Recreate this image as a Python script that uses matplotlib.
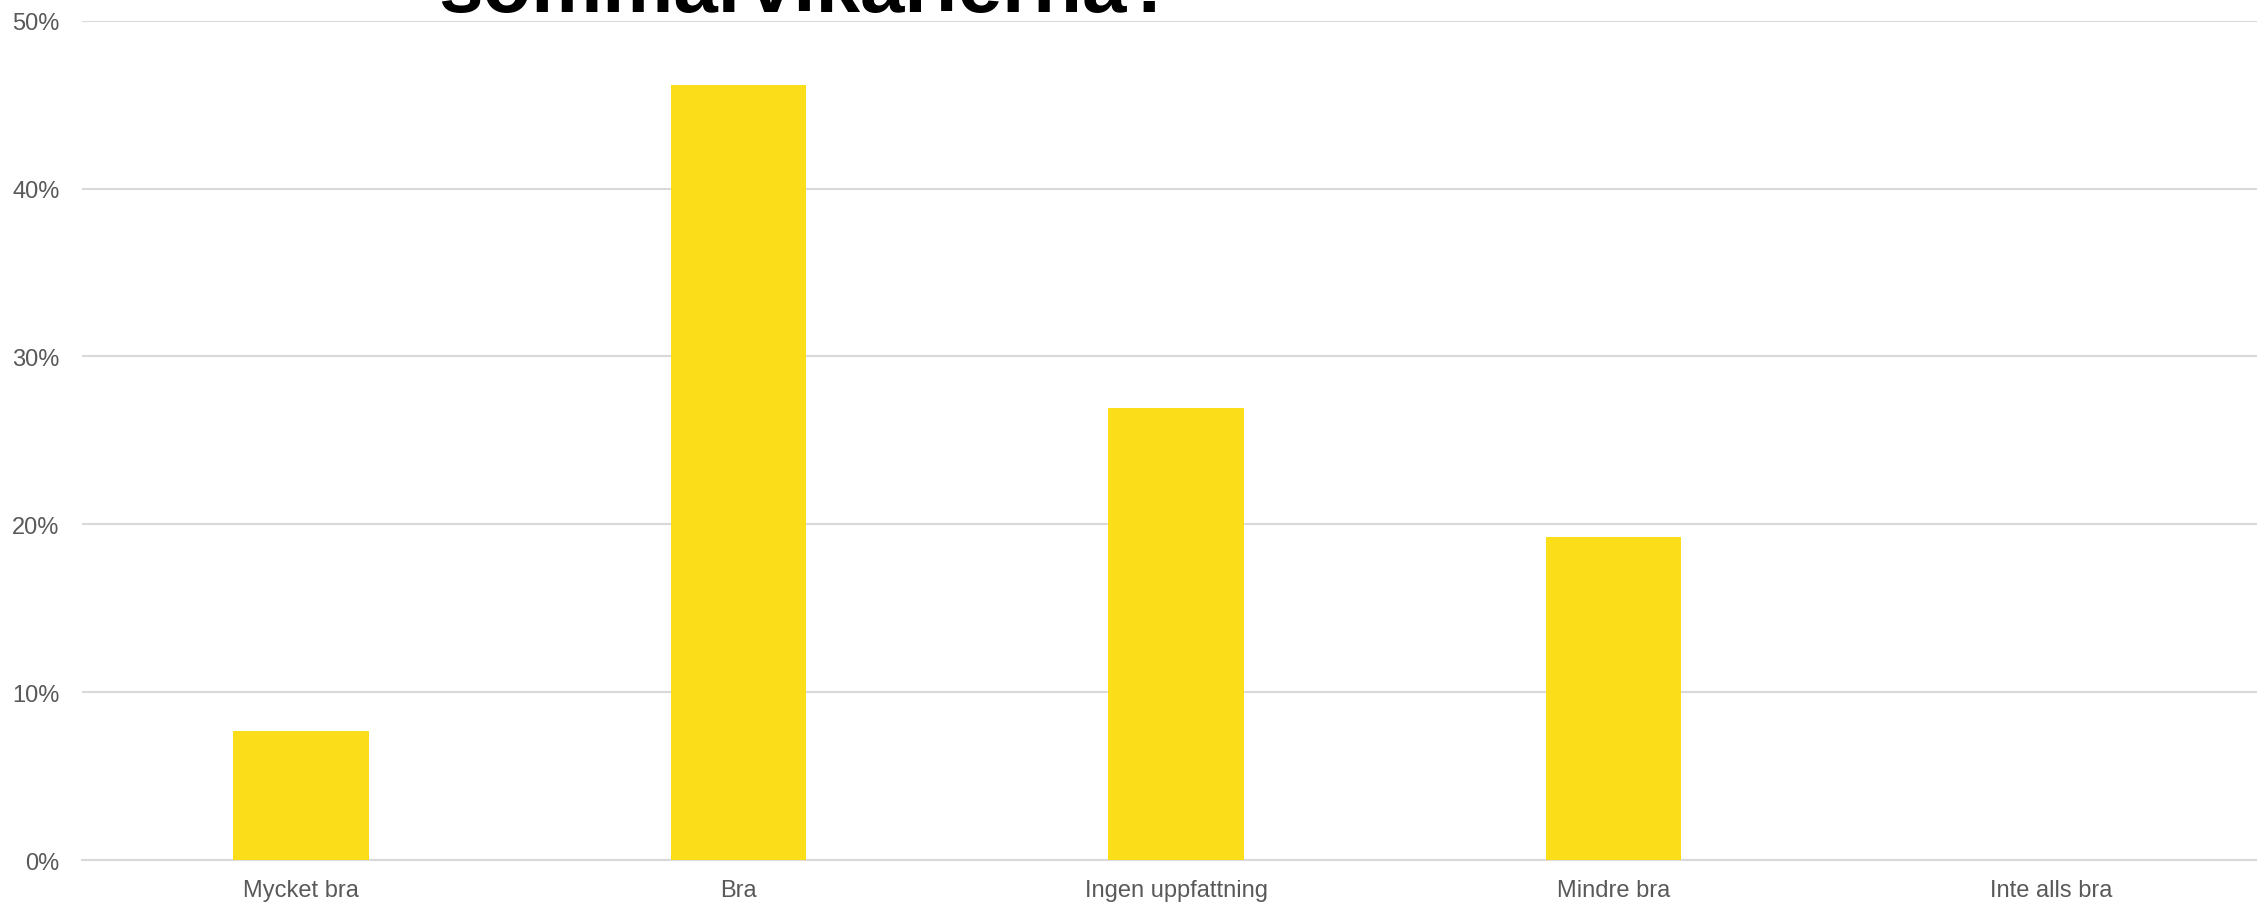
import matplotlib
matplotlib.use("Agg")
import matplotlib.pyplot as plt
from matplotlib.ticker import PercentFormatter

categories = ["Mycket bra", "Bra", "Ingen uppfattning", "Mindre bra", "Inte alls bra"]
values = [7.69, 46.15, 26.92, 19.23, 0.0]
yticks = [0, 10, 20, 30, 40, 50]
title = "sommarvikarierna?"

plt.rcParams['font.family'] = ['Liberation Sans', 'DejaVu Sans']

fig = plt.figure(figsize=(22.57, 9.03), dpi=100)
ax = fig.add_axes([0.0363, 0.0465, 0.9695, 0.9295])

x = list(range(len(categories)))
ax.bar(x, values, width=0.31, color="#FCDD19", zorder=3)

ax.set_xlim(-0.5, len(categories) - 0.5)
ax.set_ylim(0, 50)
ax.set_yticks(yticks)
ax.yaxis.set_major_formatter(PercentFormatter(decimals=0))
ax.set_xticks(x)
ax.set_xticklabels(categories)

ax.grid(axis='y', color="#D9D9D9", linewidth=1.5, zorder=0)
for s in ["top", "right", "left"]:
    ax.spines[s].set_visible(False)
ax.spines["bottom"].set_color("#D9D9D9")
ax.spines["bottom"].set_linewidth(1.5)
ax.tick_params(axis='both', length=0, labelsize=17, colors="#595959")
ax.tick_params(axis='x', pad=14)
ax.tick_params(axis='y', pad=16)

fig.text(0.3575, 0.9862, title, ha='center', va='baseline', fontsize=57.5,
         fontweight='bold', color='black')

fig.savefig("out.png", dpi=100)
